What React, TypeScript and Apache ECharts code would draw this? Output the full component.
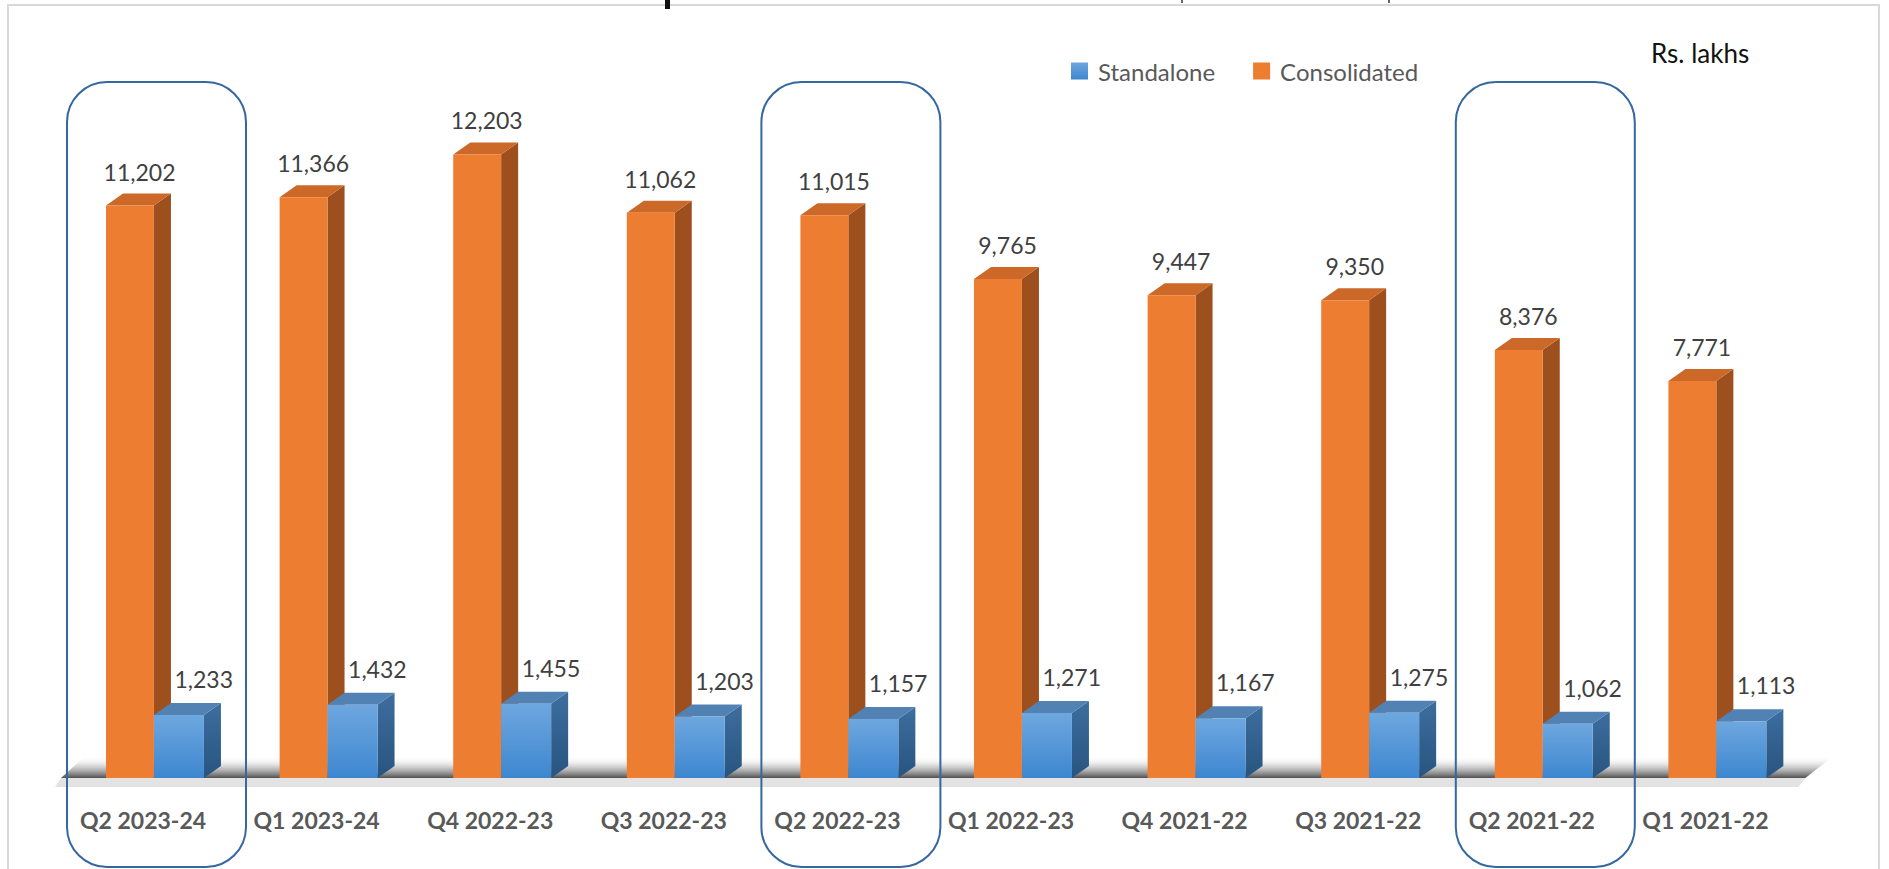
import React, { useEffect, useRef } from 'react';
import * as echarts from 'echarts';

const categories = [
  'Q2 2023-24', 'Q1 2023-24', 'Q4 2022-23', 'Q3 2022-23', 'Q2 2022-23',
  'Q1 2022-23', 'Q4 2021-22', 'Q3 2021-22', 'Q2 2021-22', 'Q1 2021-22',
];
const standalone = [1233, 1432, 1455, 1203, 1157, 1271, 1167, 1275, 1062, 1113];
const consolidated = [11202, 11366, 12203, 11062, 11015, 9765, 9447, 9350, 8376, 7771];
const highlightedIdx = [0, 4, 8];
const legendNames = ['Standalone', 'Consolidated'];
const unitLabel = 'Rs. lakhs';

const FONT = 'Lato, "Open Sans", sans-serif';

const fmt = (v: number) => v.toLocaleString('en-US');

type Kind = 'blue' | 'orange';

const palette = {
  orange: {
    front: '#ed7d31',
    side: '#9d4f1d',
    top: '#cc6828',
  },
  blue: {
    front: () => new echarts.graphic.LinearGradient(0, 0, 0, 1, [
      { offset: 0, color: '#6ea7df' },
      { offset: 1, color: '#3d87d0' },
    ]),
    side: () => new echarts.graphic.LinearGradient(0, 0, 0, 1, [
      { offset: 0, color: '#3d6e9f' },
      { offset: 1, color: '#28547f' },
    ]),
    top: '#5282b3',
  },
};

function makeRender(kind: Kind) {
  return (_params: any, api: any) => {
    const idx = api.value(0);
    const val = api.value(1);
    const topPt = api.coord([idx, val]);
    const basePt = api.coord([idx, 0]);
    const bw = api.size([1, 0])[0];
    const c = topPt[0];
    const left = c + (kind === 'orange' ? -0.213 : 0.063) * bw;
    const w = (kind === 'orange' ? 0.276 : 0.288) * bw;
    const dx = 0.098 * bw;
    const dy = 12;
    const yt = topPt[1];
    const yb = basePt[1];
    const isBlue = kind === 'blue';
    const frontFill = isBlue ? palette.blue.front() : palette.orange.front;
    const sideFill = isBlue ? palette.blue.side() : palette.orange.side;
    const topFill = isBlue ? palette.blue.top : palette.orange.top;
    const labelX = c + (isBlue ? 0.35 : -0.02) * bw;
    const labelY = yt - (isBlue ? 36 : 34);
    return {
      type: 'group',
      children: [
        {
          type: 'polygon',
          shape: { points: [[left + w, yt], [left + w + dx, yt - dy], [left + w + dx, yb - dy], [left + w, yb]] },
          style: { fill: sideFill },
        },
        {
          type: 'polygon',
          shape: { points: [[left, yt], [left + dx, yt - dy], [left + w + dx, yt - dy], [left + w, yt]] },
          style: { fill: topFill },
        },
        {
          type: 'rect',
          shape: { x: left, y: yt, width: w, height: yb - yt },
          style: { fill: frontFill },
        },
        {
          type: 'text',
          x: labelX,
          y: labelY,
          style: {
            text: fmt(val),
            fill: '#404040',
            fontSize: 23,
            fontFamily: FONT,
            align: 'center',
            verticalAlign: 'middle',
          },
        },
      ],
    };
  };
}

export default function App() {
  const ref = useRef<HTMLDivElement>(null);

  useEffect(() => {
    if (!ref.current) return;
    const chart = echarts.init(ref.current, null, { renderer: 'svg' });

    chart.setOption({
      animation: false,
      backgroundColor: '#ffffff',
      grid: { left: 56.2, right: 96.8, top: 62.6, bottom: 91, containLabel: false },
      legend: {
        data: legendNames,
        left: 1066,
        top: 54,
        itemWidth: 17,
        itemHeight: 17,
        itemGap: 38,
        icon: 'rect',
        textStyle: { fontFamily: FONT, fontSize: 24, color: '#595959', padding: [0, 0, 0, 5] },
      },
      xAxis: {
        type: 'category',
        data: categories,
        boundaryGap: true,
        axisLine: { show: false },
        axisTick: { show: false },
        splitLine: { show: false },
        axisLabel: {
          interval: 0,
          margin: 30,
          fontFamily: FONT,
          fontSize: 23,
          fontWeight: 'bold',
          color: '#595959',
        },
      },
      yAxis: {
        type: 'value',
        min: 0,
        max: 14000,
        show: false,
        splitLine: { show: false },
      },
      series: [
        {
          name: 'Consolidated',
          type: 'custom',
          renderItem: makeRender('orange'),
          encode: { x: 0, y: 1 },
          itemStyle: { color: '#ed7d31' },
          data: consolidated.map((v, i) => [i, v]),
          z: 3,
        },
        {
          name: 'Standalone',
          type: 'custom',
          renderItem: makeRender('blue'),
          encode: { x: 0, y: 1 },
          itemStyle: {
            color: new echarts.graphic.LinearGradient(0, 0, 0, 1, [
              { offset: 0, color: '#6ea7df' },
              { offset: 1, color: '#3d87d0' },
            ]),
          },
          data: standalone.map((v, i) => [i, v]),
          z: 4,
        },
      ],
    });

    const cx = (i: number) => chart.convertToPixel({ xAxisIndex: 0 }, i) as number;
    const c0 = cx(0);
    const cN = cx(categories.length - 1);
    const baseY = chart.convertToPixel({ yAxisIndex: 0 }, 0) as number;

    const elements: any[] = [
      {
        type: 'rect',
        shape: { x: 8, y: 5, width: 1871, height: 900 },
        style: { fill: 'none', stroke: '#d9d9d9', lineWidth: 2 },
        z: 0,
        silent: true,
      },
      { type: 'rect', shape: { x: 665, y: 0, width: 5, height: 9 }, style: { fill: '#111' }, z: 1, silent: true },
      { type: 'rect', shape: { x: 1181, y: 0, width: 2, height: 3 }, style: { fill: '#666' }, z: 1, silent: true },
      { type: 'rect', shape: { x: 1388, y: 0, width: 2, height: 3 }, style: { fill: '#666' }, z: 1, silent: true },
      {
        type: 'polygon',
        shape: {
          points: [
            [c0 - 82, baseY], [c0 - 58, baseY - 22], [cN + 128, baseY - 22], [cN + 100, baseY],
          ],
        },
        style: {
          fill: new echarts.graphic.LinearGradient(0, 0, 0, 1, [
            { offset: 0, color: 'rgba(255,255,255,0)' },
            { offset: 0.55, color: 'rgba(150,150,150,0.55)' },
            { offset: 1, color: 'rgba(70,70,70,0.95)' },
          ]),
        },
        z: 1,
        silent: true,
      },
      {
        type: 'polygon',
        shape: {
          points: [
            [c0 - 82, baseY], [cN + 100, baseY], [cN + 93, baseY + 9], [c0 - 88, baseY + 9],
          ],
        },
        style: { fill: '#e3e3e3' },
        z: 1,
        silent: true,
      },
      {
        type: 'text',
        x: 1651,
        y: 53,
        style: {
          text: unitLabel,
          fill: '#111111',
          fontSize: 26,
          fontFamily: FONT,
          align: 'left',
          verticalAlign: 'middle',
        },
        z: 5,
      },
    ];

    highlightedIdx.forEach((i) => {
      const c = cx(i);
      elements.push({
        type: 'rect',
        shape: { x: c - 76, y: 82, width: 179, height: 785, r: 40 },
        style: { fill: 'none', stroke: '#3567a0', lineWidth: 2 },
        z: 10,
        silent: true,
      });
    });

    chart.setOption({ graphic: { elements } });

    return () => chart.dispose();
  }, []);

  return (
    <div
      ref={ref}
      style={{ position: 'fixed', left: 0, top: 0, width: 1889, height: 869, background: '#ffffff' }}
    />
  );
}
